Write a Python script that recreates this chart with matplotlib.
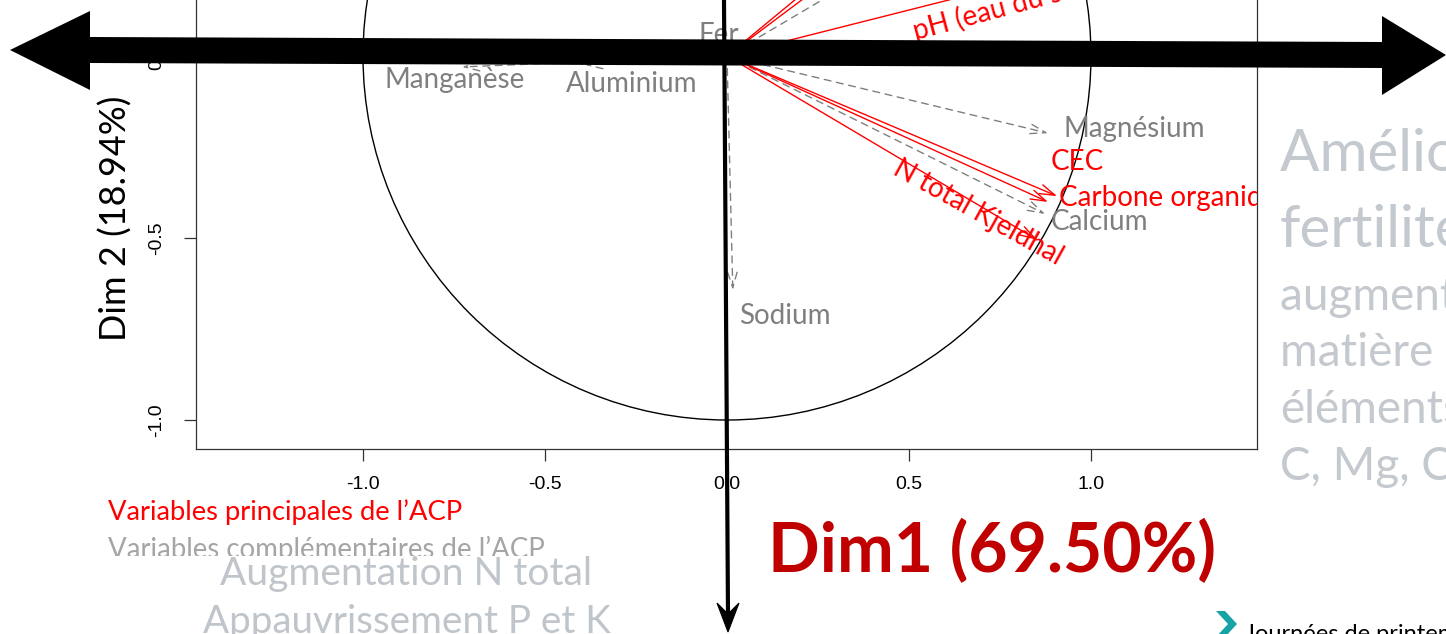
import matplotlib
matplotlib.use("Agg")
import matplotlib.pyplot as plt
from matplotlib.patches import Polygon, FancyArrowPatch, Circle, Rectangle
from matplotlib.lines import Line2D
from matplotlib.transforms import ScaledTranslation

# ---------------- data ----------------
principal_names = ["pH (eau du sol)", "", "", "CEC", "Carbone organique", "N total Kjeldhal"]
principal_dim1 = [0.95, 0.69, 0.72, 0.907, 0.882, 0.852]
principal_dim2 = [0.24, 0.57, 0.54, -0.385, -0.401, -0.505]

supp_names = ["Magnésium", "Calcium", "Sodium", "Manganèse", "Aluminium", "Fer", ""]
supp_dim1 = [0.882, 0.874, 0.016, -0.728, -0.39, -0.01, 0.78]
supp_dim2 = [-0.212, -0.434, -0.643, -0.03, -0.025, 0.03, 0.46]

xtick_values = [-1.0, -0.5, 0.0, 0.5, 1.0]
xtick_labels = ["-1.0", "-0.5", "0.0", "0.5", "1.0"]
ytick_values = [-1.0, -0.5, 0.0]
ytick_labels = ["-1.0", "-0.5", "0.0"]

dim1_label = "Dim1 (69.50%)"
dim2_label = "Dim 2 (18.94%)"
legend_main = "Variables principales de l\u2019ACP"
legend_supp = "Variables complémentaires de l\u2019ACP"
bottom_lines = ["Augmentation N total", "Appauvrissement P et K"]
right_title = ["Amélioration de la", "fertilité"]
right_lines = ["augmentation de la", "matière organique et des", "éléments", "C, Mg, Ca"]
footer = "Journées de printemps"

# ---------------- layout ----------------
W, H = 1446, 634
FONT = ["Lato", "DejaVu Sans"]
fig = plt.figure(figsize=(W / 100, H / 100), dpi=100)
fig.patch.set_facecolor("white")


def P(x, y):
    return (x / W, 1 - y / H)


xlim = (-1.46, 1.455)
ylim = (-1.08, 1.08)
S = 364.0  # pixels per unit
ax_left = 727 + xlim[0] * S
ax_bottom = 56 - ylim[0] * S
ax = fig.add_axes([ax_left / W, (H - ax_bottom) / H,
                   (xlim[1] - xlim[0]) * S / W, (ylim[1] - ylim[0]) * S / H])
ax.set_xlim(*xlim)
ax.set_ylim(*ylim)
for sp in ax.spines.values():
    sp.set_color("#333333")
    sp.set_linewidth(0.9)
ax.set_xticks(xtick_values)
ax.set_xticklabels(xtick_labels)
ax.set_yticks(ytick_values)
ax.set_yticklabels(ytick_labels, rotation=90, va="center")
ax.tick_params(length=8.6, width=0.9, pad=13, labelsize=14, color="#333333")
ax.tick_params(axis="x", pad=11)
for lab in ax.get_xticklabels() + ax.get_yticklabels():
    lab.set_fontfamily("Liberation Sans")

ax.add_patch(Circle((0, 0), 1, fill=False, lw=1.0, ec="black"))

label_style = {
    "pH (eau du sol)": (-112.9, -51.4, "left", "baseline", 15),
    "CEC": (-5, 24.5, "left", "center", 0),
    "Carbone organique": (7.9, 2.9, "left", "center", 0),
    "N total Kjeldhal": (-42.5, 19.4, "center", "center", -29),
    "Magnésium": (10.8, 2.9, "left", "center", 0),
    "Calcium": (4.3, -5.8, "left", "center", 0),
    "Sodium": (4.3, -18.7, "left", "center", 0),
    "Manganèse": (-5, -9.4, "center", "center", 0),
    "Aluminium": (33.8, -13.7, "center", "center", 0),
    "Fer": (-3.6, 7.2, "center", "center", 0),
}


def draw_var(name, x, y, color, ls):
    arr = FancyArrowPatch((0, 0), (x, y), arrowstyle="->,head_length=0.55,head_width=0.17",
                          mutation_scale=20, lw=1.0, color=color, linestyle=ls,
                          shrinkA=0, shrinkB=0)
    ax.add_patch(arr)
    if name:
        dx, dy, ha, va, rot = label_style[name]
        tr = ax.transData + ScaledTranslation(dx / 72, dy / 72, fig.dpi_scale_trans)
        t = ax.text(x, y, name, transform=tr, ha=ha, va=va, rotation=rot,
                    rotation_mode="anchor", fontsize=20, color=color, family=FONT)
        t.set_clip_on(True)
        t.set_clip_box(ax.bbox)


for n, x, y in zip(supp_names, supp_dim1, supp_dim2):
    draw_var(n, x, y, "#7F7F7F", (0, (5, 4)))
for n, x, y in zip(principal_names, principal_dim1, principal_dim2):
    draw_var(n, x, y, "#FF0000", "-")

# mask under the cropped tick labels
fig.patches.append(Rectangle(P(150, 634), 1110 / W, 142 / H, transform=fig.transFigure,
                             fc="white", ec="none", zorder=1))

renderer = fig.canvas.get_renderer()


def fit_text(x0, x1, y, s, color, weight="normal", zorder=3):
    t = fig.text(*P(x0, y), s, fontsize=20, color=color, weight=weight,
                 family=FONT, ha="left", va="baseline", zorder=zorder)
    bb = t.get_window_extent(renderer)
    t.set_fontsize(20 * (x1 - x0) / bb.width)
    return t


fit_text(108, 465, 520, legend_main, "#FF0000")
fit_text(108, 545, 558, legend_supp, "#A5A5A5")
fig.patches.append(Rectangle(P(100, 634), 530 / W, 78 / H, transform=fig.transFigure,
                             fc="white", ec="none", zorder=3.5))
fit_text(220, 592, 585, bottom_lines[0], "#BFC5CA", zorder=4)
fit_text(203, 612, 633, bottom_lines[1], "#BFC5CA", zorder=4)
fit_text(768, 1216, 572, dim1_label, "#C00000", weight="bold")

# Dim 2 label
t2 = fig.text(*P(116, 218), dim2_label, fontsize=20, rotation=90, ha="center",
              va="center", family=FONT, color="black")
bb = t2.get_window_extent(renderer)
t2.set_fontsize(20 * 245 / bb.height)

# right-hand text
for s, yb in zip(right_title, [171, 247]):
    fig.text(*P(1280, yb), s, fontsize=42, color="#C3C9CE", family=FONT, va="baseline")
for s, yb in zip(right_lines, [310, 366, 423, 480]):
    fig.text(*P(1280, yb), s, fontsize=33, color="#C3C9CE", family=FONT, va="baseline")

# footer
fig.patches.append(Polygon([P(1216, 611), P(1225, 611), P(1237, 624), P(1225, 637),
                            P(1216, 637), P(1228, 624)], closed=True,
                           transform=fig.transFigure, fc="#17A2A6", ec="none", zorder=5))
fig.text(*P(1245, 624), footer, fontsize=17, color="black", family=FONT, va="top")

# big horizontal double arrow
harrow = [P(10, 50), P(90, 11), P(90, 37), P(1382, 42), P(1382, 16), P(1446, 55),
          P(1382, 95), P(1382, 68), P(90, 63), P(90, 90)]
fig.patches.append(Polygon(harrow, closed=True, transform=fig.transFigure,
                           fc="black", ec="none", zorder=10))

# vertical arrow
fig.lines.append(Line2D([724 / W, 728 / W], [1.0, 1 - 615 / H], transform=fig.transFigure,
                        color="black", lw=3.0, zorder=10))
fig.patches.append(Polygon([P(717, 603), P(728, 632), P(739, 603), P(728, 614)], closed=True,
                           transform=fig.transFigure, fc="black", ec="black", lw=0.8, zorder=10))

fig.savefig("out.png", dpi=100)
